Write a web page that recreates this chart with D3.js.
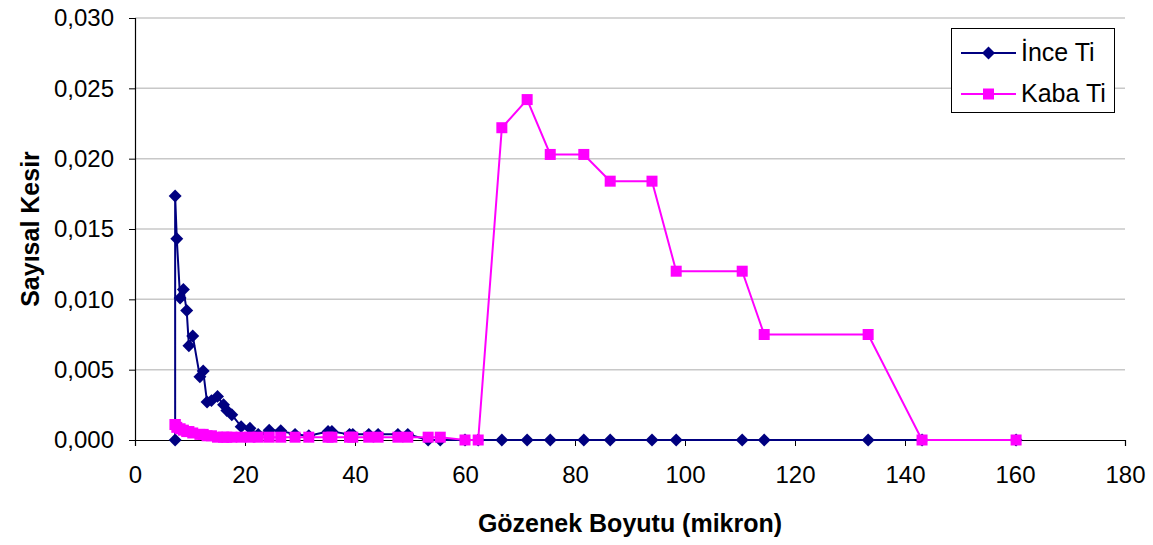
<!DOCTYPE html>
<html><head><meta charset="utf-8">
<script src="https://cdn.jsdelivr.net/npm/d3@7"></script>
<style>body{margin:0;background:#fff}svg{display:block}text{font-family:"Liberation Sans",Arial,sans-serif}</style>
</head><body>
<svg id="c" width="1153" height="545"></svg>
<script>
const poreSize = [7.3,7.3,7.6,8.2,8.8,9.4,9.8,10.5,11.8,12.4,13.1,13.9,15.0,16.1,16.7,17.6,19.3,20.9,22.4,24.4,26.5,29.1,31.6,35.1,35.8,39.0,39.6,42.5,44.2,47.8,49.6,53.3,55.5,60.0,62.4,66.7,71.3,75.5,81.6,86.4,94.0,98.4,110.4,114.4,133.3,143.1,160.2];
const inceTi = [0,0.01735,0.0143,0.0101,0.0107,0.0092,0.0067,0.0074,0.0045,0.0049,0.0027,0.0028,0.0031,0.0025,0.0021,0.0018,0.00095,0.00083,0.0004,0.0007,0.00066,0.0004,0.0003,0.0006,0.0006,0.0004,0.0004,0.0004,0.0004,0.0004,0.0004,0,0,0,0,0,0,0,0,0,0,0,0,0,0,0,0];
const kabaTi = [0.0011,0.0011,0.0009,0.0008,0.0007,0.0006,0.0006,0.0005,0.0004,0.0004,0.0003,0.0003,0.0002,0.0002,0.0002,0.0002,0.0002,0.0002,0.0002,0.0002,0.0002,0.0002,0.0002,0.0002,0.0002,0.0002,0.0002,0.0002,0.0002,0.0002,0.0002,0.0002,0.0002,0,0,0.0222,0.0242,0.0203,0.0203,0.0184,0.0184,0.0120,0.0120,0.0075,0.0075,0,0];
const xTicks = [0,20,40,60,80,100,120,140,160,180];
const yTicks = [0,0.005,0.010,0.015,0.020,0.025,0.030];
const seriesNames = ["İnce Ti","Kaba Ti"];
const colors = ["#000080","#FF00FF"];

const svg = d3.select("#c");
const L=135,R=1125,T=18,B=440;
const x = d3.scaleLinear().domain([0,180]).range([L,R]);
const y = d3.scaleLinear().domain([0,0.030]).range([B,T]);
const fmt = v => d3.format(".3f")(v).replace(".",",");

// gridlines
svg.append("g").selectAll("line").data(yTicks.filter(d=>d>0)).join("line")
  .attr("x1",L).attr("x2",R).attr("y1",d=>y(d)).attr("y2",d=>y(d))
  .attr("stroke","#c8c8c8").attr("stroke-width",1.5);

// axes
const gx = svg.append("g").attr("transform",`translate(0,${B})`)
  .call(d3.axisBottom(x).tickValues(xTicks).tickSize(6).tickPadding(20).tickFormat(d3.format("d")));
const gy = svg.append("g").attr("transform",`translate(${L},0)`)
  .call(d3.axisLeft(y).tickValues(yTicks).tickSize(6).tickPadding(15).tickFormat(fmt));
[gx,gy].forEach(g=>{
  g.select(".domain").attr("stroke","#000").attr("stroke-width",1.2);
  g.selectAll(".tick line").attr("stroke","#000");
  g.selectAll(".tick text").attr("font-size",24).attr("fill","#000").attr("font-family","Liberation Sans, Arial, sans-serif");
});

// axis titles
svg.append("text").attr("x",(L+R)/2).attr("y",532).attr("text-anchor","middle")
  .attr("font-size",25).attr("font-weight","bold").text("Gözenek Boyutu (mikron)");
svg.append("text").attr("transform",`translate(39,${(T+B)/2}) rotate(-90)`).attr("text-anchor","middle")
  .attr("font-size",25).attr("font-weight","bold").text("Sayısal Kesir");

const line = d3.line().x(d=>x(d[0])).y(d=>y(d[1]));
const data = [inceTi,kabaTi].map(s=>poreSize.map((p,i)=>[p,s[i]]));

function marker(g, i, cx, cy){
  if(i===0){
    g.append("path").attr("d", d3.symbol().type(d3.symbolSquare).size(84)())
      .attr("transform",`translate(${cx},${cy}) rotate(45)`).attr("fill",colors[0]);
  } else {
    g.append("rect").attr("x",cx-5.5).attr("y",cy-5.5).attr("width",11).attr("height",11).attr("fill",colors[1]);
  }
}

data.forEach((d,i)=>{
  const g = svg.append("g");
  g.append("path").datum(d).attr("d",line).attr("fill","none").attr("stroke",colors[i]).attr("stroke-width",2);
  d.forEach(p=>marker(g,i,x(p[0]),y(p[1])));
});

// legend
const lg = svg.append("g");
lg.append("rect").attr("x",951.5).attr("y",28.5).attr("width",163).attr("height",84).attr("fill","#fff").attr("stroke","#000").attr("stroke-width",1);
seriesNames.forEach((n,i)=>{
  const yy = 53 + i*41;
  lg.append("line").attr("x1",961).attr("x2",1016).attr("y1",yy).attr("y2",yy).attr("stroke",colors[i]).attr("stroke-width",2);
  marker(lg,i,988.5,yy);
  lg.append("text").attr("x",1021).attr("y",yy+8).attr("font-size",25).text(n);
});
</script>
</body></html>
